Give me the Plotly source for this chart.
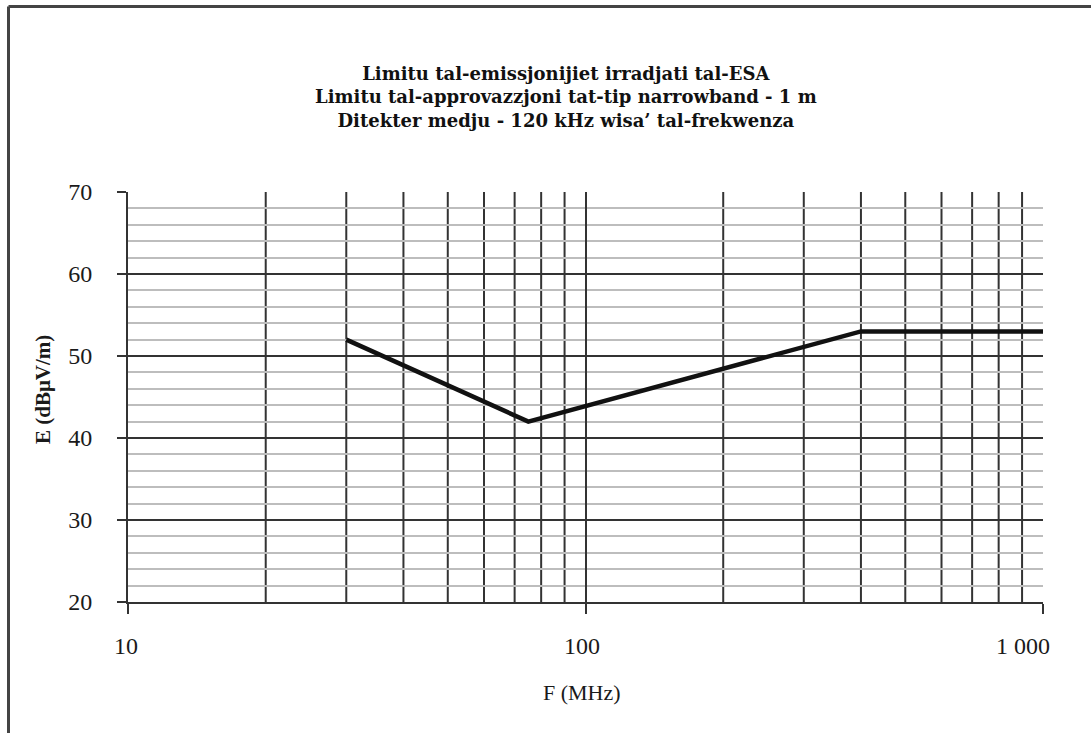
import math
import plotly.graph_objects as go

# Data
freq_mhz = [30, 75, 400, 1000]
limit_db = [52, 42, 53, 53]
x_major_ticks = [10, 100, 1000]
x_major_labels = ["10", "100", "1 000"]
x_minor_ticks = [20, 30, 40, 50, 60, 70, 80, 90, 200, 300, 400, 500, 600, 700, 800, 900]
y_major_ticks = [20, 30, 40, 50, 60, 70]
y_range = [20, 70]
title_lines = [
    "Limitu tal-emissjonijiet irradjati tal-ESA",
    "Limitu tal-approvazzjoni tat-tip narrowband - 1 m",
    "Ditekter medju - 120 kHz wisa\u2019 tal-frekwenza",
]
x_title = "F (MHz)"
y_title = "E (dB\u03bcV/m)"

W, H = 1091, 733
L, R, T, B = 128, 1043, 192, 602
SERIF = "Liberation Serif, Times New Roman, serif"
WIDE_SERIF = "DejaVu Serif, Liberation Serif, serif"
DARK = "#333333"

def px(x):
    return (x - L) / (R - L)

def py(y):
    return (B - y) / (B - T)

fig = go.Figure()
fig.add_trace(go.Scatter(
    x=freq_mhz, y=limit_db, mode="lines",
    line=dict(color="#111111", width=4.5),
    showlegend=False, hoverinfo="skip",
))

fig.update_layout(
    width=W, height=H,
    margin=dict(l=L, r=W - R, t=T, b=H - B),
    paper_bgcolor="white", plot_bgcolor="white",
    font=dict(family=SERIF, color="#222222", size=18),
    xaxis=dict(
        type="log", range=[1, 3],
        tickvals=x_major_ticks, ticktext=x_major_labels, showticklabels=False,
        ticks="outside", ticklen=10, tickwidth=2, tickcolor=DARK,
        showgrid=True, gridcolor=DARK, gridwidth=2,
        showline=True, linecolor=DARK, linewidth=2,
        zeroline=False,
    ),
    yaxis=dict(
        range=y_range,
        tickvals=y_major_ticks,
        ticks="outside", ticklen=9, tickwidth=2, tickcolor=DARK,
        ticklabelstandoff=20,
        showgrid=True, gridcolor=DARK, gridwidth=2,
        minor=dict(dtick=2, showgrid=True, gridcolor="#bdbdbd", gridwidth=2, ticks=""),
        showline=True, linecolor=DARK, linewidth=2,
        zeroline=False,
        tickfont=dict(family=SERIF, size=24, color="#1a1a1a"),
    ),
)

# Vertical minor lines drawn above horizontal grid lines
for v in x_minor_ticks:
    fig.add_shape(type="line", xref="x", yref="y", layer="below",
                  x0=v, x1=v, y0=y_range[0], y1=y_range[1],
                  line=dict(color=DARK, width=2))

# x tick labels
for v, lab, sh in zip(x_major_ticks, x_major_labels, [-2, -4, -20]):
    fig.add_annotation(text=lab, xref="x", yref="paper",
                       x=math.log10(v), y=py(646), xanchor="center", yanchor="middle",
                       xshift=sh, showarrow=False,
                       font=dict(family=SERIF, size=24, color="#1a1a1a"))

# axis titles
fig.add_annotation(text=x_title, xref="paper", yref="paper",
                   x=px(582), y=py(692), xanchor="center", yanchor="middle",
                   showarrow=False, font=dict(family=SERIF, size=22, color="#1a1a1a"))
fig.add_annotation(text="<b>" + y_title + "</b>", xref="paper", yref="paper",
                   x=px(43), y=py(390), xanchor="center", yanchor="middle",
                   textangle=-90, showarrow=False,
                   font=dict(family=SERIF, size=21, color="#1a1a1a"))

# chart title (three lines, one text block)
fig.add_annotation(
    text="<br>".join("<b>" + s + "</b>" for s in title_lines),
    xref="paper", yref="paper", align="center",
    x=px(566), y=py(97), xanchor="center", yanchor="middle",
    showarrow=False, font=dict(family=WIDE_SERIF, size=18, color="#111111"),
)

# Outer frame (top and left edges visible)
fig.add_shape(type="line", xref="paper", yref="paper",
              x0=px(8.5), x1=px(W + 5), y0=py(6.5), y1=py(6.5),
              line=dict(color="#444444", width=3))
fig.add_shape(type="line", xref="paper", yref="paper",
              x0=px(8.5), x1=px(8.5), y0=py(6.5), y1=py(H + 5),
              line=dict(color="#444444", width=3))

fig.write_html("out.html")
